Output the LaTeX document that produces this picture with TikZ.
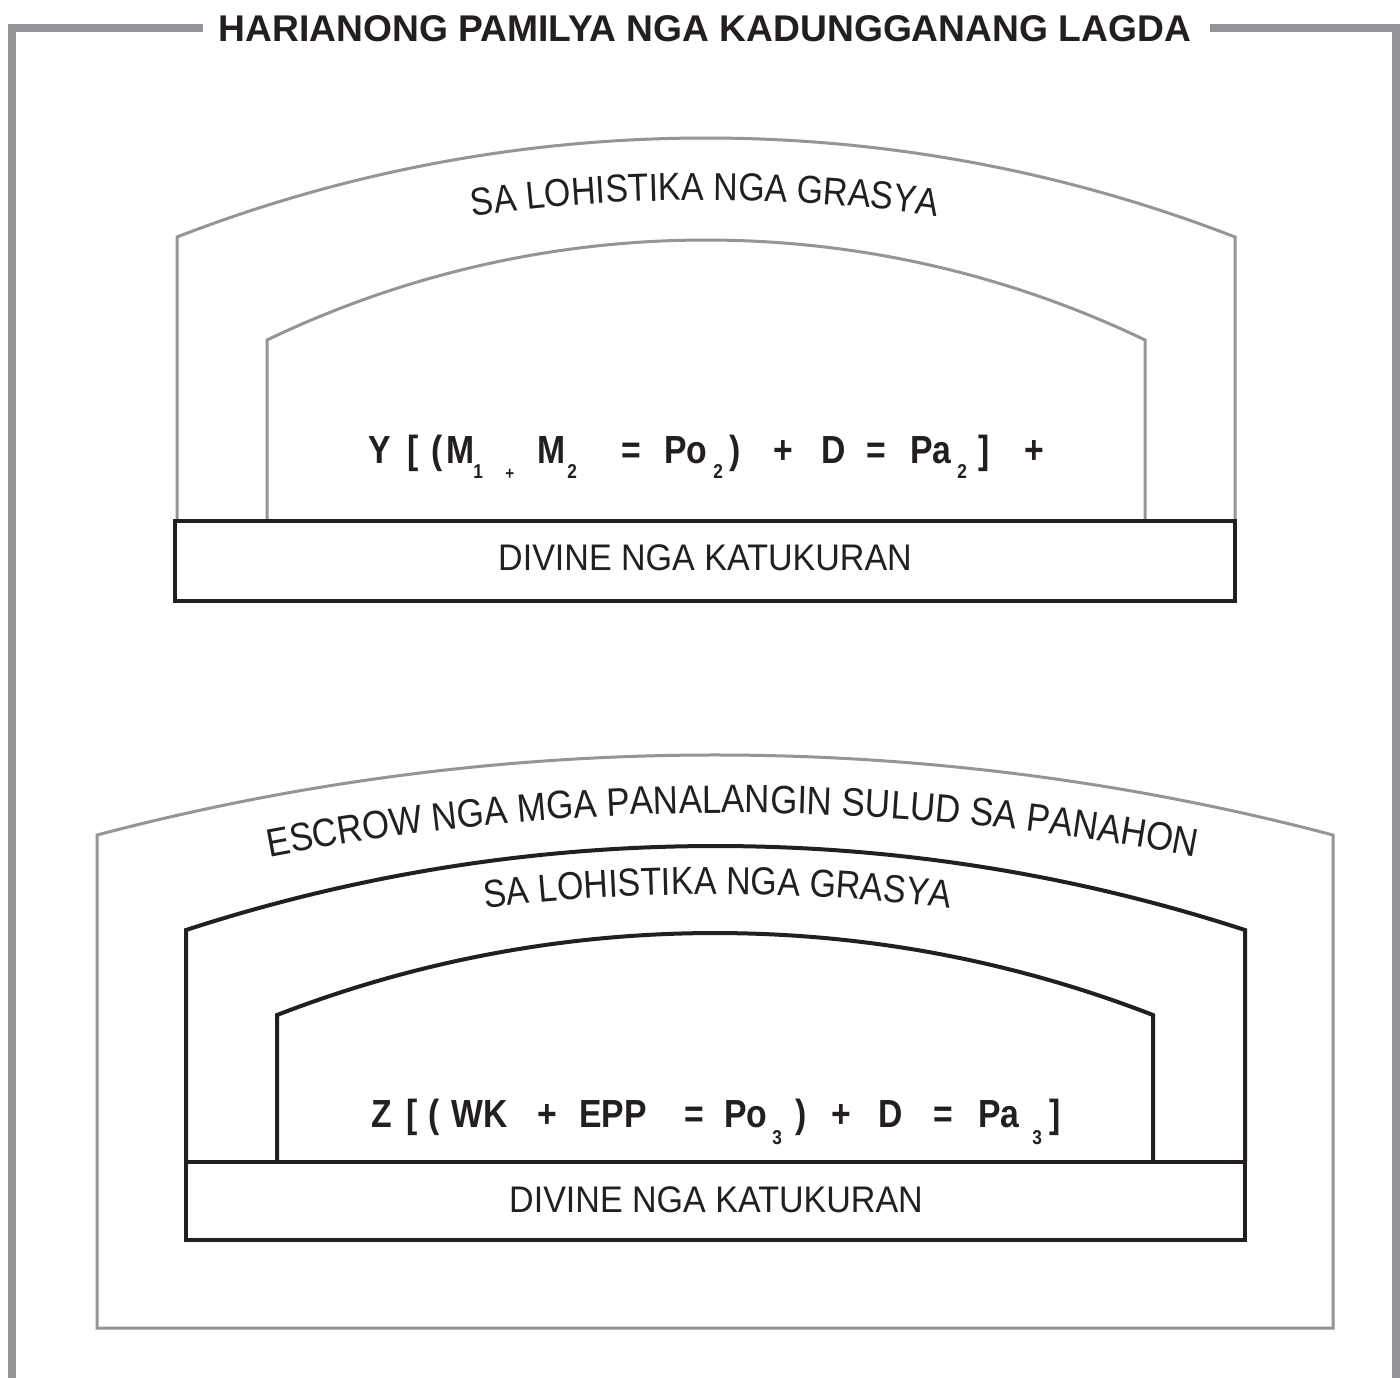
\documentclass[tikz,border=0pt]{standalone}
\usepackage{fontspec}
\setmainfont{Liberation Sans}
\newfontfamily\curvefam[FakeStretch=0.87]{Liberation Sans}
\newfontfamily\escrowfam[FakeStretch=0.88]{Liberation Sans}
\newfontfamily\divfam[FakeStretch=0.92]{Liberation Sans}
\newfontfamily\fmfam[FakeStretch=0.86]{Liberation Sans}
\usetikzlibrary{decorations.text}
\definecolor{framegray}{RGB}{147,149,152}
\definecolor{inkblack}{RGB}{35,31,32}
\newcommand\curvefont{\curvefam\fontsize{19.5pt}{20pt}\selectfont}
\newcommand\escrowfont{\escrowfam\fontsize{19.8pt}{20pt}\selectfont}
\begin{document}
\begin{tikzpicture}[x=0.5pt,y=-0.5pt,
  frameline/.style={draw=framegray,line width=4pt,line join=miter},
  grayarch/.style={draw=framegray,line width=1.5pt,line join=miter},
  blackarch/.style={draw=inkblack,line width=2pt,line join=miter},
  basebox/.style={draw=inkblack,line width=2pt,inner sep=0pt},
  divtext/.style={anchor=base,inner sep=0pt,text=inkblack,font=\divfam\fontsize{18.5pt}{20pt}\selectfont},
  fm/.style={anchor=base west,inner sep=0pt,text=inkblack,font=\fmfam\bfseries\fontsize{19.6pt}{20pt}\selectfont},
  fmsub/.style={anchor=base west,inner sep=0pt,text=inkblack,font=\fmfam\bfseries\fontsize{10pt}{10pt}\selectfont},
  fmsmall/.style={anchor=base west,inner sep=0pt,text=inkblack,font=\fmfam\bfseries\fontsize{8.8pt}{9pt}\selectfont},
  curvetext/.style={decorate,decoration={text along path,text align=center,text color=inkblack,text={#1}}}
]
\useasboundingbox (0,0) rectangle (1400,1377);
\fill[white] (0,0) rectangle (1400,1377);

% outer frame
\coordinate (ftl0) at (203,28);
\coordinate (ftl1) at (12,28);
\coordinate (ftl2) at (12,1385);
\coordinate (ftr0) at (1210,28);
\coordinate (ftr1) at (1396,28);
\coordinate (ftr2) at (1396,1385);
\draw[frameline] (ftl0) -- (ftl1) -- (ftl2);
\draw[frameline] (ftr0) -- (ftr1) -- (ftr2);
\node[anchor=base,inner sep=0pt,text=inkblack,font=\bfseries\fontsize{18.6pt}{20pt}\selectfont] (title) at (705,41) {HARIANONG PAMILYA NGA KADUNGGANANG LAGDA};

% ---------- top section ----------
\draw[grayarch] (177,521) -- (177,237) .. controls (517.2,105) and (894.8,105) .. (1235,237) -- (1235,521);
\draw[grayarch] (267,521) -- (267,340) .. controls (544.6,206.7) and (867.4,206.7) .. (1145,340) -- (1145,521);
\path[curvetext={|\curvefont|SA LOHISTIKA NGA GRASYA}] (440,222) .. controls (590,193) and (820,193) .. (970,222);
\node[basebox,minimum width=530pt,minimum height=40pt] (box1) at (705,561) {};
\node[divtext] (div1) at (705,570) {DIVINE NGA KATUKURAN};

\node[fm] (f1y) at (368,463) {Y};
\node[fm] (f1lb) at (407,463) {[};
\node[fm] (f1lp) at (431,463) {(};
\node[fm] (f1m1) at (446,463) {M};
\node[fmsub] (f1s1) at (473,478) {1};
\node[fmsmall] (f1pl1) at (505,479) {+};
\node[fm] (f1m2) at (537,463) {M};
\node[fmsub] (f1s2) at (567,478) {2};
\node[fm] (f1eq1) at (621,463) {=};
\node[fm] (f1po) at (664,463) {Po};
\node[fmsub] (f1s3) at (713,478) {2};
\node[fm] (f1rp) at (729,463) {)};
\node[fm] (f1pl2) at (773,463) {+};
\node[fm] (f1d) at (821,463) {D};
\node[fm] (f1eq2) at (866,463) {=};
\node[fm] (f1pa) at (910,463) {Pa};
\node[fmsub] (f1s4) at (957,478) {2};
\node[fm] (f1rb) at (978,463) {]};
\node[fm] (f1pl3) at (1024,463) {+};

% ---------- bottom section ----------
\draw[grayarch] (97,1328) -- (97,835) .. controls (502,728.3) and (928,728.3) .. (1333,835) -- (1333,1328) -- cycle;
\path[curvetext={|\escrowfont|ESCROW NGA MGA PANALANGIN SULUD SA PANAHON}] (230,865) .. controls (565,795.5) and (899,795.5) .. (1234,865);
\draw[blackarch] (186,1162) -- (186,930) .. controls (530,818) and (901,818) .. (1245,930) -- (1245,1162);
\path[curvetext={|\curvefont|SA LOHISTIKA NGA GRASYA}] (455,913) .. controls (605,888) and (830,888) .. (980,913);
\draw[blackarch] (277,1162) -- (277,1015) .. controls (558.8,905.7) and (871.2,905.7) .. (1153,1015) -- (1153,1162);
\node[basebox,minimum width=529.5pt,minimum height=39pt] (box2) at (715.5,1201) {};
\node[divtext] (div2) at (716,1212) {DIVINE NGA KATUKURAN};

\node[fm] (f2z) at (371,1127) {Z};
\node[fm] (f2lb) at (406,1127) {[};
\node[fm] (f2lp) at (428,1127) {(};
\node[fm] (f2wk) at (451,1127) {WK};
\node[fm] (f2pl1) at (537,1127) {+};
\node[fm] (f2epp) at (579,1127) {EPP};
\node[fm] (f2eq1) at (684,1127) {=};
\node[fm] (f2po) at (724,1127) {Po};
\node[fmsub] (f2s1) at (772,1144) {3};
\node[fm] (f2rp) at (795,1127) {)};
\node[fm] (f2pl2) at (831,1127) {+};
\node[fm] (f2d) at (878,1127) {D};
\node[fm] (f2eq2) at (933,1127) {=};
\node[fm] (f2pa) at (978,1127) {Pa};
\node[fmsub] (f2s2) at (1032,1144) {3};
\node[fm] (f2rb) at (1049,1127) {]};
\end{tikzpicture}
\end{document}
